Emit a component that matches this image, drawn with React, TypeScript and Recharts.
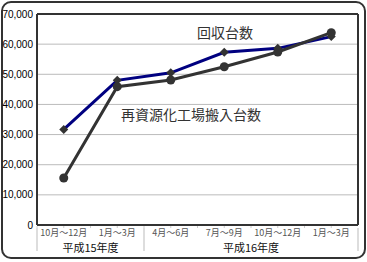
import { LineChart, Line, XAxis, YAxis, CartesianGrid } from "recharts"

const periods = ["10月〜12月", "1月〜3月", "4月〜6月", "7月〜9月", "10月〜12月", "1月〜3月"]
const fiscalYears = ["平成15年度", "平成15年度", "平成16年度", "平成16年度", "平成16年度", "平成16年度"]
const quarterKeys = ["h15q3", "h15q4", "h16q1", "h16q2", "h16q3", "h16q4"]
const collected = [31700, 48000, 50500, 57300, 58600, 62500]
const recycled = [15600, 45900, 48100, 52500, 57400, 63800]
const yTicks = [0, 10000, 20000, 30000, 40000, 50000, 60000, 70000]

const data = quarterKeys.map((key, i) => ({
    key,
    collected: collected[i],
    recycled: recycled[i],
}))

const jpFont = '"Noto Sans CJK JP", "Noto Sans", sans-serif'

// category label + faint tick marks + fiscal year group labels / dividers
const PeriodTick = (props: any) => {
    const { x, y, index, payload, width, visibleTicksCount } = props
    const half = payload?.offset || width / visibleTicksCount / 2
    const left = x - half
    const isGroupStart = index === 0 || fiscalYears[index - 1] !== fiscalYears[index]
    const isLast = index === fiscalYears.length - 1
    let span = 0
    if (isGroupStart) {
        while (fiscalYears[index + span] === fiscalYears[index]) span++
    }
    return (
        <g>
            <line x1={left} x2={left} y1={y + 1} y2={y + 3} stroke="#ccc" />
            <line x1={x} x2={x} y1={y + 1} y2={y + 3} stroke="#ccc" />
            <text x={x} y={y + 11} textAnchor="middle" fontSize={9} fill="#555" fontFamily={jpFont}>
                {periods[index]}
            </text>
            {isGroupStart && (
                <>
                    <line x1={left} x2={left} y1={y + 3} y2={y + 26} stroke="#bbb" />
                    <text x={left + span * half} y={y + 27} textAnchor="middle" fontSize={11} fill="#111" fontFamily={jpFont}>
                        {fiscalYears[index]}
                    </text>
                </>
            )}
            {isLast && <line x1={x + half} x2={x + half} y1={y + 3} y2={y + 26} stroke="#bbb" />}
        </g>
    )
}

const Diamond = (props: any) => {
    const { cx, cy } = props
    if (cx == null || cy == null) return null
    const s = 4.5
    return <path d={`M${cx},${cy - s}L${cx + s},${cy}L${cx},${cy + s}L${cx - s},${cy}Z`} fill="#333" />
}

export default function App() {
    return (
        <div style={{ position: "absolute", left: 0, top: 0, width: 367, height: 262, background: "#fff" }}>
            <div
                style={{
                    position: "absolute",
                    left: 1,
                    top: 1,
                    width: 365,
                    height: 258,
                    boxSizing: "border-box",
                    border: "2px solid #333",
                    borderRadius: 10,
                }}
            />
            <LineChart
                width={367}
                height={262}
                data={data}
                margin={{ top: 13, right: 8, bottom: 7, left: 0 }}
                style={{ position: "absolute", left: 0, top: 0 }}
            >
                <CartesianGrid vertical={false} stroke="#bbb" />
                <XAxis
                    dataKey="key"
                    scale="band"
                    height={30}
                    axisLine={{ stroke: "#333", strokeWidth: 2 }}
                    tickLine={false}
                    tickSize={0}
                    tickMargin={0}
                    interval={0}
                    tick={<PeriodTick />}
                />
                <XAxis
                    xAxisId="top"
                    orientation="top"
                    dataKey="key"
                    scale="band"
                    height={1}
                    axisLine={{ stroke: "#333", strokeWidth: 2 }}
                    tickLine={false}
                    tick={false}
                />
                <YAxis
                    domain={[0, 70000]}
                    ticks={yTicks}
                    width={37}
                    axisLine={{ stroke: "#333", strokeWidth: 2 }}
                    tickLine={false}
                    tickSize={0}
                    tickMargin={4}
                    tick={{ fontSize: 10, fill: "#000", fontFamily: '"Liberation Sans", Arial, sans-serif' }}
                    tickFormatter={(v) => v.toLocaleString("en-US")}
                />
                <YAxis
                    yAxisId="right"
                    orientation="right"
                    domain={[0, 70000]}
                    width={1}
                    axisLine={{ stroke: "#333", strokeWidth: 2 }}
                    tickLine={false}
                    tick={false}
                />
                <Line
                    dataKey="collected"
                    stroke="#000080"
                    strokeWidth={3}
                    dot={<Diamond />}
                    activeDot={false}
                    isAnimationActive={false}
                />
                <Line
                    dataKey="recycled"
                    stroke="#333"
                    strokeWidth={3}
                    dot={{ r: 4.5, fill: "#333", stroke: "none" }}
                    activeDot={false}
                    isAnimationActive={false}
                />
            </LineChart>
            <div style={{ position: "absolute", left: 197, top: 25, fontSize: 14, lineHeight: "14px", color: "#333", fontFamily: jpFont }}>
                回収台数
            </div>
            <div style={{ position: "absolute", left: 121, top: 107, fontSize: 14, lineHeight: "14px", color: "#333", fontFamily: jpFont }}>
                再資源化工場搬入台数
            </div>
        </div>
    )
}
